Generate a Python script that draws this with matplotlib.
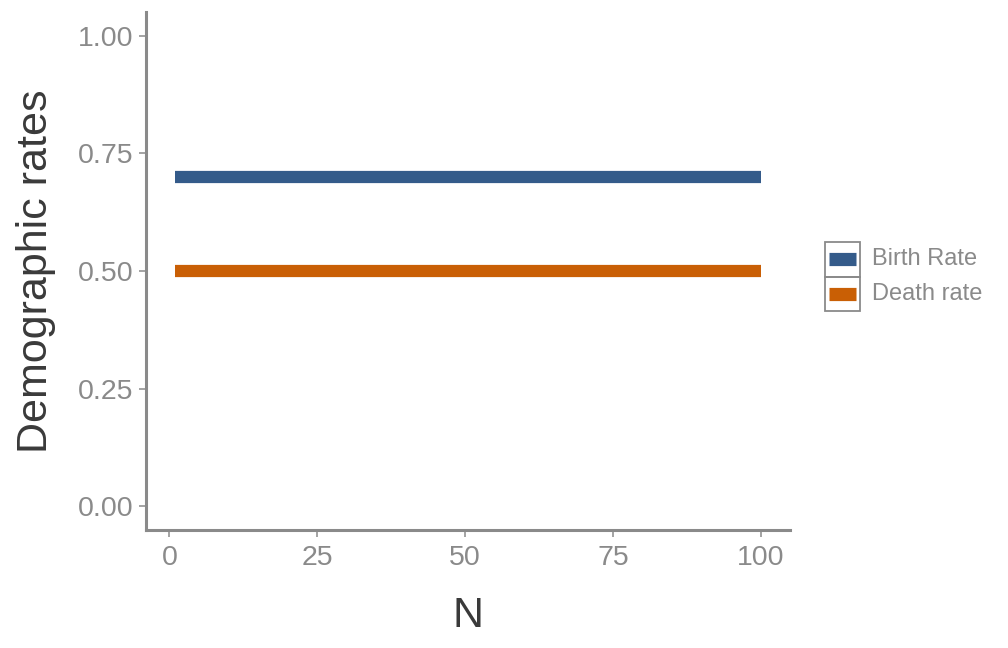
import matplotlib
matplotlib.use("Agg")
import matplotlib.pyplot as plt
from matplotlib.patches import Rectangle
from matplotlib.lines import Line2D

plt.rcParams['font.family'] = ['Liberation Sans', 'DejaVu Sans']

N = [1, 100]
birth_rate = [0.7, 0.7]
death_rate = [0.5, 0.5]
series_labels = ["Birth Rate", "Death rate"]
series_colors = ["#345B8A", "#C95F05"]
x_ticks = [0, 25, 50, 75, 100]
y_ticks = [0.00, 0.25, 0.50, 0.75, 1.00]

W, H = 1008, 648
fig = plt.figure(figsize=(W / 100, H / 100), dpi=100)
ax = fig.add_axes([146 / W, 1 - 530 / H, (790 - 146) / W, (530 - 12) / H])

for y, c in zip([birth_rate, death_rate], series_colors):
    ax.plot(N, y, color=c, lw=8.8, solid_capstyle='butt')

xr = N[-1] - N[0]
ax.set_xlim(N[0] - 0.05 * xr, N[-1] + 0.05 * xr)
ax.set_ylim(-0.05, 1.05)
ax.set_xticks(x_ticks)
ax.set_xticklabels([str(t) for t in x_ticks])
ax.set_yticks(y_ticks)
ax.set_yticklabels([f"{t:.2f}" for t in y_ticks])

grey = "#8a8a8a"
for s in ['top', 'right']:
    ax.spines[s].set_visible(False)
for s in ['left', 'bottom']:
    ax.spines[s].set_color(grey)
    ax.spines[s].set_linewidth(2.2)
ax.tick_params(colors=grey, labelcolor=grey, labelsize=20.5, length=5, width=1.1)
ax.tick_params(axis='x', pad=6)
ax.tick_params(axis='y', pad=4)

ax.set_xlabel("N", fontsize=31, color="#3a3a3a", labelpad=18)
ax.set_ylabel("Demographic rates", fontsize=31, color="#3a3a3a", labelpad=16)

# legend drawn manually in figure pixel coords
box_x0, box_w, box_h = 825, 35, 34.5
top = 242
for i, (lab, c) in enumerate(zip(series_labels, series_colors)):
    y0 = top + i * box_h
    fig.patches.append(Rectangle((box_x0 / W, 1 - (y0 + box_h) / H), box_w / W, box_h / H,
                                 transform=fig.transFigure, fill=False,
                                 edgecolor=grey, lw=1.3))
    yc = 1 - (y0 + box_h / 2) / H
    fig.lines.append(Line2D([(box_x0 + 4) / W, (box_x0 + box_w - 4) / W], [yc, yc],
                            transform=fig.transFigure, color=c, lw=9.5,
                            solid_capstyle='butt'))
    fig.text(872 / W, yc, lab, fontsize=17, color=grey, va='center', ha='left')

fig.savefig("out.png", dpi=100, facecolor="white")
